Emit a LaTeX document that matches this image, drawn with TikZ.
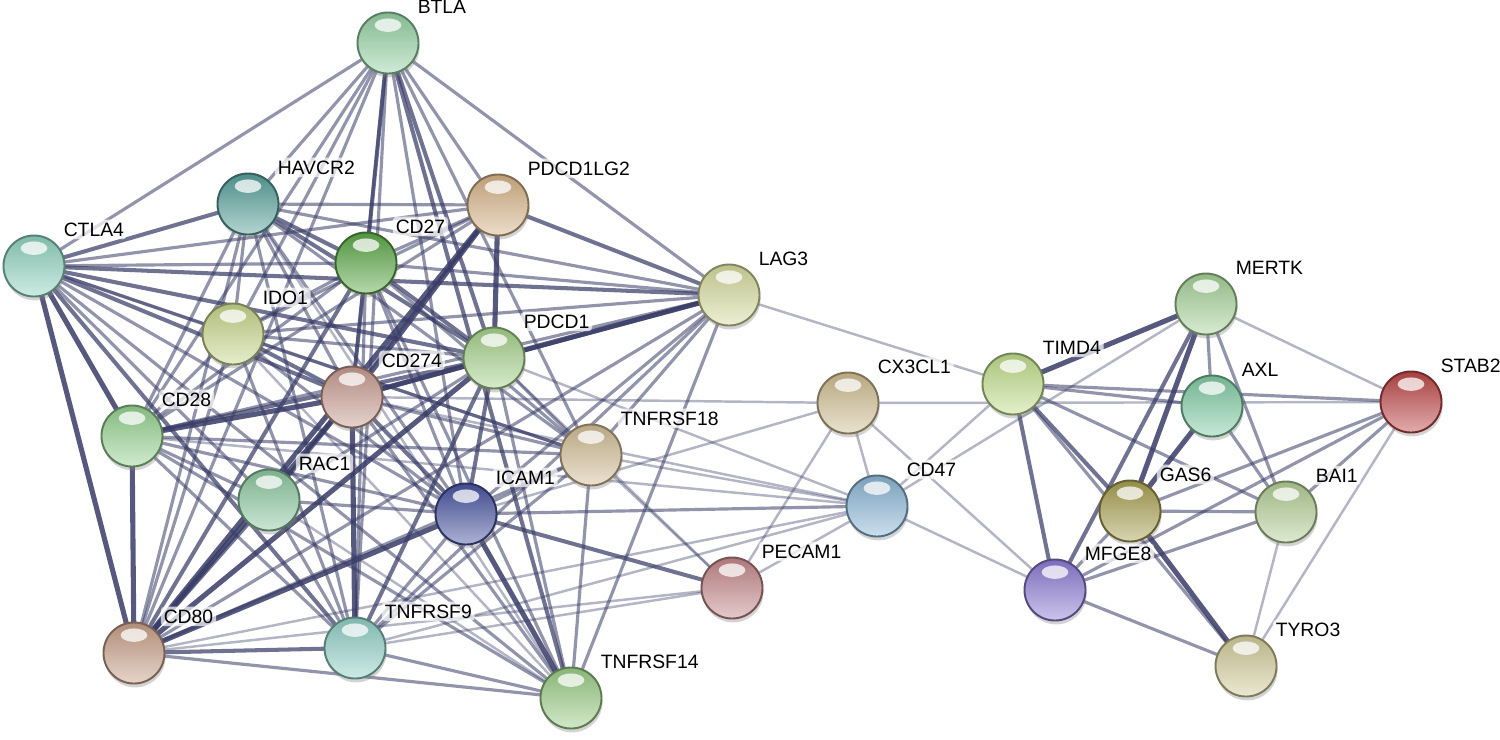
\documentclass[tikz,border=0pt]{standalone}
\usepackage{fontspec}
\setsansfont{Liberation Sans}
\usetikzlibrary{shadows,backgrounds}

\definecolor{edgeblue}{RGB}{56,60,102}
\definecolor{cBTLA}{RGB}{150,210,165}
\definecolor{cHAVCR}{RGB}{88,160,155}
\definecolor{cPDLtwo}{RGB}{214,180,136}
\definecolor{cCTLA}{RGB}{145,212,192}
\definecolor{cCDtwoseven}{RGB}{92,168,72}
\definecolor{cLAG}{RGB}{214,220,158}
\definecolor{cIDO}{RGB}{200,214,140}
\definecolor{cPDone}{RGB}{166,210,140}
\definecolor{cPDLone}{RGB}{200,156,145}
\definecolor{cCDtwoeight}{RGB}{150,210,145}
\definecolor{cTNFoneeight}{RGB}{210,190,150}
\definecolor{cRAC}{RGB}{140,200,160}
\definecolor{cICAM}{RGB}{72,84,160}
\definecolor{cCDfourseven}{RGB}{140,182,214}
\definecolor{cPECAM}{RGB}{196,136,138}
\definecolor{cCDeightzero}{RGB}{200,160,136}
\definecolor{cTNFnine}{RGB}{145,208,198}
\definecolor{cTNFonefour}{RGB}{155,205,135}
\definecolor{cCXC}{RGB}{208,190,146}
\definecolor{cTIMD}{RGB}{192,222,140}
\definecolor{cMERTK}{RGB}{166,210,152}
\definecolor{cAXL}{RGB}{130,204,165}
\definecolor{cSTAB}{RGB}{190,72,72}
\definecolor{cGAS}{RGB}{168,160,82}
\definecolor{cBAI}{RGB}{180,206,150}
\definecolor{cMFGE}{RGB}{140,124,212}
\definecolor{cTYRO}{RGB}{210,204,154}

\begin{document}
\begin{tikzpicture}[x=0.01cm, y=-0.01cm, font=\sffamily\fontsize{5.5}{6}\selectfont,
	prot/.style={circle, minimum size=0.61cm, inner sep=0pt, line width=.55pt,
		draw=#1!60!black, top color=#1!88!black, bottom color=#1!45!white,
		drop shadow={shadow xshift=.3pt, shadow yshift=-1.1pt, opacity=.35},
		path picture={\fill[white, opacity=.75] ([yshift=-3.6pt]path picture bounding box.north) ellipse (3.8pt and 1.9pt);}},
	every label/.style={fill=white, fill opacity=.7, text opacity=1, inner sep=.8pt, rounded corners=1pt},
	label distance=1.6pt,
	etop/.style={draw=edgeblue, opacity=.85, line width=1.45pt},
	estr/.style={draw=edgeblue, opacity=.72, line width=1.15pt},
	emd/.style={draw=edgeblue, opacity=.55, line width=.9pt},
	ewk/.style={draw=edgeblue, opacity=.38, line width=.7pt}]
	\useasboundingbox (0,0) rectangle (1500,739);
	%left cluster
	\node[prot=cBTLA, label={45:BTLA}] (btla) at (388,43) {};
	\node[prot=cHAVCR, label={45:HAVCR2}] (havcr) at (248,204) {};
	\node[prot=cPDLtwo, label={45:PDCD1LG2}] (pdl2) at (498,205) {};
	\node[prot=cCTLA, label={45:CTLA4}] (ctla) at (34,266) {};
	\node[prot=cCDtwoseven, label={45:CD27}] (cd27) at (366,263) {};
	\node[prot=cLAG, label={45:LAG3}] (lag3) at (729,295) {};
	\node[prot=cIDO, label={45:IDO1}] (ido) at (233,334) {};
	\node[prot=cPDone, label={45:PDCD1}] (pd1) at (494,358) {};
	\node[prot=cPDLone, label={45:CD274}] (pdl1) at (352,397) {};
	\node[prot=cCDtwoeight, label={45:CD28}] (cd28) at (132,436) {};
	\node[prot=cTNFoneeight, label={45:TNFRSF18}] (tnf18) at (591,455) {};
	\node[prot=cRAC, label={45:RAC1}] (rac) at (269,500) {};
	\node[prot=cICAM, label={45:ICAM1}] (icam) at (466,514) {};
	\node[prot=cPECAM, label={45:PECAM1}] (pecam) at (732,588) {};
	\node[prot=cCDeightzero, label={45:CD80}] (cd80) at (134,653) {};
	\node[prot=cTNFnine, label={45:TNFRSF9}] (tnf9) at (355,648) {};
	\node[prot=cTNFonefour, label={45:TNFRSF14}] (tnf14) at (571,698) {};
	\node[prot=cCXC, label={45:CX3CL1}] (cx3) at (848,403) {};
	\node[prot=cCDfourseven, label={45:CD47}] (cd47) at (877,506) {};
	%right cluster
	\node[prot=cTIMD, label={45:TIMD4}] (timd) at (1013,384) {};
	\node[prot=cMERTK, label={45:MERTK}] (mertk) at (1206,304) {};
	\node[prot=cAXL, label={45:AXL}] (axl) at (1212,406) {};
	\node[prot=cSTAB, label={45:STAB2}] (stab) at (1411,402) {};
	\node[prot=cGAS, label={45:GAS6}] (gas) at (1130,511) {};
	\node[prot=cBAI, label={45:BAI1}] (bai) at (1286,512) {};
	\node[prot=cMFGE, label={45:MFGE8}] (mfge) at (1055,590) {};
	\node[prot=cTYRO, label={45:TYRO3}] (tyro) at (1246,666) {};
	%edges
	\begin{scope}[on background layer]
	\foreach \a/\b in {ctla/cd28, ctla/cd80, cd28/cd80, pd1/pdl1, pd1/lag3, pdl2/pdl1,
		pdl2/cd80, pdl1/cd80, pd1/cd80, icam/cd80, icam/tnf14, pdl1/tnf9, cd28/pdl1,
		pd1/pdl2, gas/mertk, gas/tyro, timd/mertk, gas/axl}
	\draw[etop] (\a.center) -- (\b.center);
	\foreach \a/\b in {btla/cd27, btla/pd1, btla/tnf14, ctla/pdl1, ctla/pd1, ctla/lag3,
		ctla/havcr, cd27/pdl1, cd27/pd1, pd1/icam, rac/pdl1, rac/cd80, havcr/pd1,
		havcr/cd27, ido/pdl1, pdl1/icam, pdl1/lag3, pdl2/lag3, tnf9/cd80, cd27/cd80,
		ctla/tnf9, pd1/tnf9, mfge/mertk, timd/gas, timd/mfge, icam/pecam, pd1/cd28}
	\draw[estr] (\a.center) -- (\b.center);
	\foreach \a/\b in {btla/ctla, btla/havcr, btla/pdl2, btla/lag3, btla/ido, btla/pdl1,
		btla/cd28, btla/cd80, btla/tnf9, btla/tnf18, btla/icam,
		ctla/cd27, ctla/ido, ctla/pdl2, ctla/tnf18, ctla/icam, ctla/tnf14, ctla/rac,
		havcr/pdl1, havcr/lag3, havcr/ido, havcr/cd28, havcr/cd80, havcr/tnf9,
		havcr/pdl2, havcr/tnf18, havcr/icam,
		cd27/pdl2, cd27/lag3, cd27/cd28, cd27/tnf9, cd27/tnf18, cd27/tnf14, cd27/ido, cd27/icam,
		lag3/ido, lag3/cd28, lag3/cd80, lag3/tnf9, lag3/tnf18, lag3/tnf14, lag3/icam,
		ido/pd1, ido/cd28, ido/cd80, ido/tnf9, ido/icam, ido/pdl2, ido/tnf18,
		pd1/tnf18, pd1/tnf14, pd1/rac, pdl1/tnf18, pdl1/tnf14,
		cd28/tnf9, cd28/icam, cd28/rac, cd28/tnf18, cd28/tnf14, cd28/pdl2,
		tnf18/tnf9, tnf18/tnf14, tnf18/icam, tnf18/cd80,
		rac/icam, rac/tnf9, rac/pdl2, icam/tnf9, cd80/tnf14, tnf9/tnf14, icam/cd47,
		timd/axl, timd/stab, timd/bai, timd/tyro, mertk/axl, mertk/bai, axl/bai,
		gas/bai, gas/mfge, mfge/bai, mfge/stab, mfge/tyro, gas/stab, bai/stab}
	\draw[emd] (\a.center) -- (\b.center);
	\foreach \a/\b in {pdl1/cx3, pdl1/cd47, pd1/cd47, tnf18/cd47, cd28/cd47, cd80/cd47,
		tnf9/cd47, cd80/pecam, tnf18/pecam, pd1/pecam, pecam/cx3, pecam/cd47, cx3/cd47,
		icam/cx3, lag3/timd, cx3/stab, cd47/timd, cd47/mertk, cx3/mfge, cd47/mfge,
		mertk/stab, stab/tyro, bai/tyro, rac/tnf14, ido/tnf14, havcr/tnf14, tnf9/pecam}
	\draw[ewk] (\a.center) -- (\b.center);
	\end{scope}
\end{tikzpicture}
\end{document}
